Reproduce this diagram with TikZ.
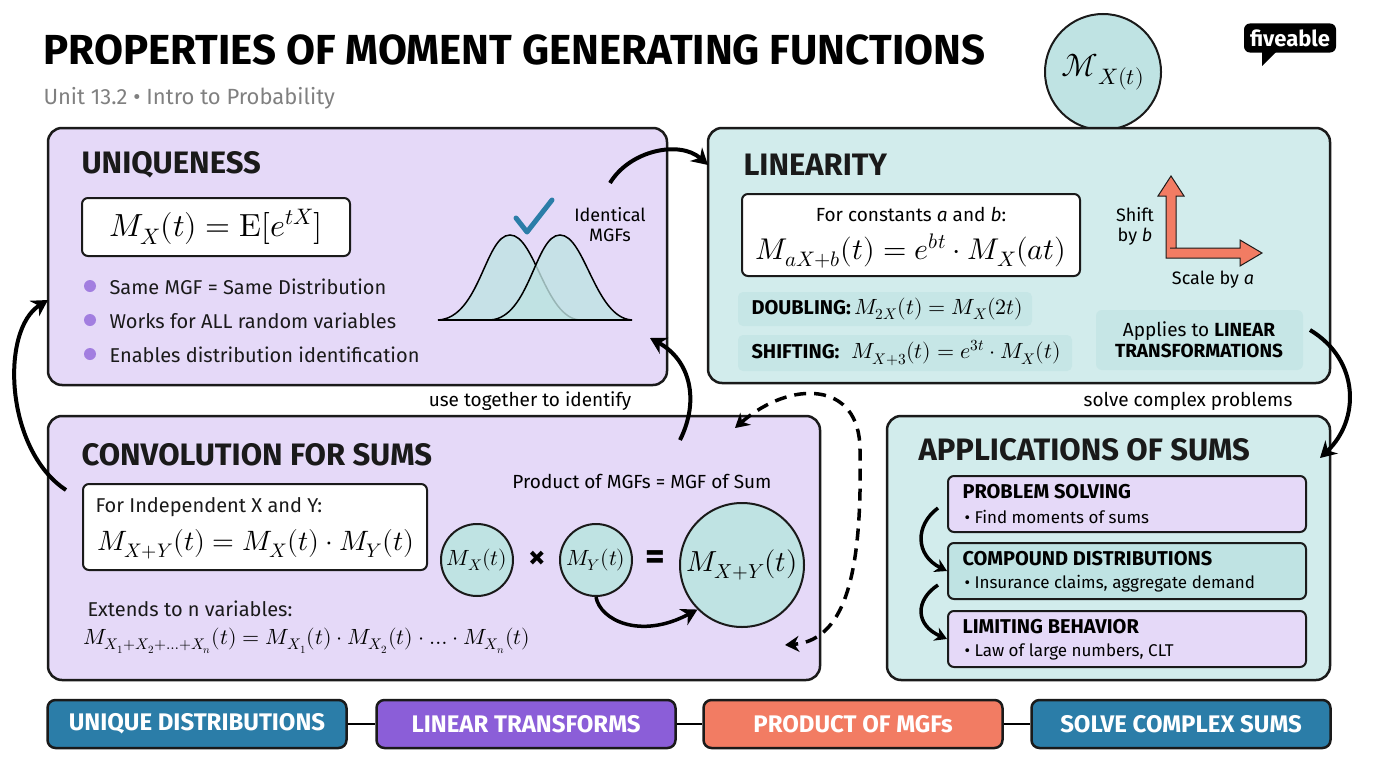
\documentclass[tikz,border=0pt]{standalone}
\usepackage{fontspec}
\usepackage{unicode-math}
\setmathfont{Latin Modern Math}
\setmainfont{Fira Sans}
\newfontfamily\hd{Fira Sans}[UprightFont=* Bold]
\usetikzlibrary{arrows.meta}
\definecolor{pur}{HTML}{E5D9F8}
\definecolor{tea}{HTML}{D2ECEC}
\definecolor{tdk}{HTML}{BFE3E3}
\definecolor{tlt}{HTML}{C6E6E6}
\definecolor{blu}{HTML}{2B7DA8}
\definecolor{vio}{HTML}{8B5ED8}
\definecolor{sal}{HTML}{F27C63}
\definecolor{txt}{HTML}{1A1A1A}
\begin{document}
\begin{tikzpicture}[x=1pt,y=-1pt,
 panel/.style={draw=txt,line width=2.5pt,rounded corners=14pt},
 inner/.style={draw=txt,line width=2pt,rounded corners=6pt,fill=white},
 pill/.style={draw=txt,line width=2.5pt,rounded corners=8pt,minimum width=299pt,minimum height=48pt,text=white,font=\hd\fontsize{24}{26}\selectfont},
 head/.style={anchor=west,font=\hd\fontsize{31}{33}\selectfont,text=txt},
 body/.style={anchor=west,font=\fontsize{20}{22}\selectfont,text=txt},
 flow/.style={line width=4pt,-{Stealth[length=16pt,width=18pt]}},
 dot/.style={circle,fill=vio!80,inner sep=0pt,minimum size=12pt}]
\useasboundingbox (0,0) rectangle (1376,768);
\fill[white] (0,0) rectangle (1376,768);
% title
\node[anchor=west,font=\hd\fontsize{42}{44}\selectfont] (title) at (40,50) {PROPERTIES OF MOMENT GENERATING FUNCTIONS};
\node[anchor=west,font=\fontsize{22}{24}\selectfont,text=gray] (sub) at (40,98) {Unit 13.2 • Intro to Probability};
\node[circle,draw=txt,line width=2pt,fill=tdk,minimum size=116pt,font=\fontsize{32}{34}\selectfont] (mx) at (1103,72) {$\mathcal{M}_{X(t)}$};
\node[fill=black,text=white,rounded corners=6pt,font=\hd\fontsize{22}{24}\selectfont,inner sep=6pt] (logo) at (1290,38) {fiveable};
\fill[black] (1262,52) -- (1262,66) -- (1276,52) -- cycle;
% panels
\draw[panel,fill=pur] (48,128) rectangle (667,385);
\draw[panel,fill=tea] (708,128) rectangle (1330,383);
\draw[panel,fill=pur] (48,416) rectangle (820,680);
\draw[panel,fill=tea] (887,416) rectangle (1330,680);
% uniqueness
\node[head] (uh) at (78,165) {UNIQUENESS};
\node[inner,minimum width=268pt,minimum height=58pt,font=\fontsize{32}{34}\selectfont] (ueq) at (216,227) {$M_X(t)=\symrm{E}[e^{tX}]$};
\node[dot] (d1) at (90,286) {}; \node[body] (u1) at (106,287) {Same MGF = Same Distribution};
\node[dot] (d2) at (90,320) {}; \node[body] (u2) at (106,321) {Works for ALL random variables};
\node[dot] (d3) at (90,354) {}; \node[body] (u3) at (106,355) {Enables distribution identification};
\draw[line width=1.5pt,fill=tdk,fill opacity=0.8] (438,320) .. controls (480,318) and (485,235) .. (510,235) .. controls (535,235) and (545,318) .. (580,320) -- cycle;
\draw[line width=1.5pt,fill=tdk,fill opacity=0.8] (490,320) .. controls (530,318) and (535,235) .. (560,235) .. controls (585,235) and (595,318) .. (632,320) -- cycle;
\draw[line width=1.5pt] (438,320) -- (632,320);
\draw[line width=5pt,blu,line cap=round,line join=round] (516,218) -- (527,232) -- (552,200);
\node[font=\fontsize{18}{20}\selectfont,align=center] (idm) at (610,225) {Identical\\MGFs};
% linearity
\node[head] (lh) at (740,165) {LINEARITY};
\node[inner,minimum width=338pt,minimum height=82pt] (leq) at (911,235) {};
\node[font=\fontsize{19}{21}\selectfont] (l0) at (911,214) {For constants \textit{a} and \textit{b}:};
\node[font=\fontsize{30}{32}\selectfont] (l1) at (911,251) {$M_{aX+b}(t)=e^{bt}\cdot M_X(at)$};
\fill[tlt,rounded corners=5pt] (738,292) rectangle (1032,326);
\fill[tlt,rounded corners=5pt] (738,335) rectangle (1072,371);
\node[anchor=west,font=\fontsize{22}{24}\selectfont] (dbl) at (748,309) {{\hd\fontsize{20}{22}\selectfont DOUBLING:}$\,M_{2X}(t)=M_X(2t)$};
\node[anchor=west,font=\fontsize{22}{24}\selectfont] (sft) at (748,353) {{\hd\fontsize{20}{22}\selectfont SHIFTING:}\ \ $M_{X+3}(t)=e^{3t}\cdot M_X(t)$};
\draw[draw=txt,line width=1pt,fill=sal,line join=miter] (1170,248) -- (1240,248) -- (1240,240) -- (1262,253) -- (1240,266) -- (1240,258) -- (1166,258) -- (1166,196) -- (1158,196) -- (1171,176) -- (1184,196) -- (1176,196) -- (1176,248) -- cycle;
\node[font=\fontsize{18}{20}\selectfont,align=center] (shb) at (1135,226) {Shift\\by \textit{b}};
\node[font=\fontsize{18}{20}\selectfont] (scl) at (1213,280) {Scale by \textit{a}};
\fill[tlt,rounded corners=6pt] (1096,310) rectangle (1303,370);
\node[font=\fontsize{19}{21}\selectfont,align=center] (app) at (1199,340) {Applies to {\hd LINEAR}\\{\hd TRANSFORMATIONS}};
% convolution
\node[head] (ch) at (78,455) {CONVOLUTION FOR SUMS};
\node[inner,minimum width=344pt,minimum height=86pt] (ceq) at (255,527) {};
\node[body] (c0) at (92,507) {For Independent X and Y:};
\node[anchor=west,font=\fontsize{28}{30}\selectfont] (c1) at (94,544) {$M_{X+Y}(t)=M_X(t)\cdot M_Y(t)$};
\node[body] (c2) at (84,609) {Extends to n variables:};
\node[anchor=west,font=\fontsize{22}{24}\selectfont] (c3) at (80,641) {$M_{X_1+X_2+\ldots+X_n}(t)=M_{X_1}(t)\cdot M_{X_2}(t)\cdot\ldots\cdot M_{X_n}(t)$};
\node[font=\fontsize{19}{21}\selectfont] (pm) at (642,481) {Product of MGFs = MGF of Sum};
\node[circle,draw=txt,line width=2pt,fill=tdk,minimum size=72pt,inner sep=0pt,font=\fontsize{22}{24}\selectfont] (c4) at (477,560) {$M_X(t)$};
\node[font=\hd\fontsize{34}{36}\selectfont] (times) at (537,560) {×};
\node[circle,draw=txt,line width=2pt,fill=tdk,minimum size=72pt,inner sep=0pt,font=\fontsize{22}{24}\selectfont] (c5) at (596,560) {$M_Y(t)$};
\node[font=\hd\fontsize{38}{40}\selectfont] (eq) at (655,560) {=};
\node[circle,draw=txt,line width=2pt,fill=tdk,minimum size=124pt,inner sep=0pt,font=\fontsize{29}{31}\selectfont] (c6) at (742,565) {$M_{X+Y}(t)$};
\draw[flow,line width=3.5pt] (c5.south) .. controls (600,620) and (640,640) .. (c6.south west);
% applications
\node[head] (ah) at (915,450) {APPLICATIONS OF SUMS};
\node[inner,fill=pur,minimum width=358pt,minimum height=56pt] (a1) at (1127,504) {};
\node[inner,fill=tdk,minimum width=358pt,minimum height=56pt] (a2) at (1127,571) {};
\node[inner,fill=pur,minimum width=358pt,minimum height=56pt] (a3) at (1127,639) {};
\foreach \n/\t/\s in {a1/PROBLEM SOLVING/Find moments of sums,a2/COMPOUND DISTRIBUTIONS/{Insurance claims, aggregate demand},a3/LIMITING BEHAVIOR/{Law of large numbers, CLT}}{
 \node[anchor=west,font=\hd\fontsize{20}{22}\selectfont] at ([xshift=12pt,yshift=12pt]\n.west) {\t};
 \node[anchor=west,font=\fontsize{17}{19}\selectfont] at ([xshift=14pt,yshift=-13pt]\n.west) {•\ \s};}
\draw[flow,line width=3.5pt,-{Stealth[length=12pt,width=14pt]}] (938,508) .. controls (915,525) and (915,555) .. (a2.west);
\draw[flow,line width=3.5pt,-{Stealth[length=12pt,width=14pt]}] (938,585) .. controls (915,600) and (915,625) .. (a3.west);
% connectors between panels
\draw[flow] (610,183) .. controls (630,150) and (680,140) .. (708,165);
\node[font=\fontsize{19}{21}\selectfont] (ut) at (530,401) {use together to identify};
\draw[flow] (680,440) .. controls (700,400) and (690,360) .. (650,338);
\node[font=\fontsize{19}{21}\selectfont] (sc) at (1188,401) {solve complex problems};
\draw[flow] (1310,330) .. controls (1360,360) and (1360,420) .. (1320,458);
\draw[flow] (66,490) .. controls (5,450) and (0,330) .. (48,300);
\draw[line width=3.5pt,dash pattern=on 12pt off 8pt,{Stealth[length=14pt,width=16pt]}-{Stealth[length=14pt,width=16pt]}] (735,428) .. controls (790,380) and (860,380) .. (860,450) .. controls (862,560) and (850,640) .. (785,645);
% bottom
\node[pill,fill=blu] (p1) at (197,724) {UNIQUE DISTRIBUTIONS};
\node[pill,fill=vio] (p2) at (526,724) {LINEAR TRANSFORMS};
\node[pill,fill=sal] (p3) at (853,724) {PRODUCT OF MGFs};
\node[pill,fill=blu] (p4) at (1181,724) {SOLVE COMPLEX SUMS};
\draw[line width=2.5pt] (p1) -- (p2); \draw[line width=2.5pt] (p2) -- (p3); \draw[line width=2.5pt] (p3) -- (p4);
\end{tikzpicture}
\end{document}
